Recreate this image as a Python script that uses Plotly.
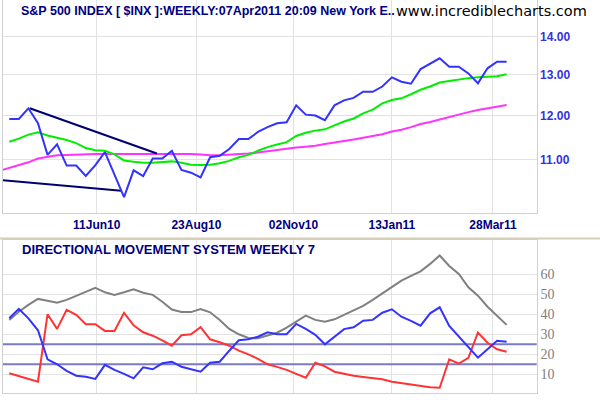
"""S&P 500 weekly with moving averages, trend lines and a DMS (ADX / +DI / -DI) panel."""
import pandas as pd
import plotly.graph_objects as go

# weekly closes ($INX / 100), 08Apr10 .. 07Apr11
weeks = pd.date_range("2010-04-08", periods=53, freq="7D")
close = [
    11.92, 11.92, 12.17, 11.82, 11.11, 11.34, 10.88, 10.88, 10.66, 10.89,
    11.17, 10.70, 10.23, 10.78, 10.66, 11.03, 11.03, 11.20, 10.79, 10.73,
    10.63, 11.06, 11.09, 11.24, 11.46, 11.46, 11.62, 11.73, 11.82, 11.84,
    12.24, 12.02, 12.00, 11.89, 12.24, 12.36, 12.42, 12.57, 12.57, 12.70,
    12.93, 12.82, 12.77, 13.14, 13.27, 13.42, 13.20, 13.20, 13.03, 12.78,
    13.16, 13.33, 13.33,
]
ma_short = [
    11.40, 11.47, 11.56, 11.61, 11.54, 11.49, 11.44, 11.37, 11.26, 11.21,
    11.20, 11.12, 10.99, 10.96, 10.94, 10.94, 10.96, 10.97, 10.94, 10.90,
    10.89, 10.90, 10.93, 10.98, 11.06, 11.11, 11.20, 11.28, 11.34, 11.39,
    11.53, 11.60, 11.65, 11.68, 11.77, 11.86, 11.93, 12.05, 12.14, 12.29,
    12.37, 12.41, 12.51, 12.62, 12.70, 12.80, 12.84, 12.88, 12.91, 12.93,
    12.95, 12.96, 13.01,
]
# long MA starts one week earlier (clipped at the left edge)
ma_long_weeks = pd.date_range("2010-04-01", periods=54, freq="7D")
ma_long = [
    10.77, 10.83, 10.89, 10.95, 11.03, 11.07, 11.10, 11.11, 11.12, 11.12,
    11.13, 11.13, 11.13, 11.14, 11.14, 11.14, 11.14, 11.14, 11.14, 11.14,
    11.13, 11.12, 11.10, 11.10, 11.11, 11.12, 11.14, 11.16, 11.19, 11.22,
    11.24, 11.27, 11.29, 11.31, 11.35, 11.38, 11.41, 11.45, 11.49, 11.53,
    11.57, 11.63, 11.67, 11.73, 11.80, 11.85, 11.91, 11.96, 12.03, 12.08,
    12.13, 12.17, 12.21, 12.25,
]
trend_upper_x = ["2010-04-23", "2010-07-25"]
trend_upper_y = [12.17, 11.14]
trend_lower_x = ["2010-04-01", "2010-06-29"]
trend_lower_y = [10.58, 10.36]

# directional movement system, 7 weeks
adx = [
    37.2, 41.3, 44.7, 47.7, 46.8, 45.8, 47.2, 49.3, 51.3, 53.2,
    51.0, 49.7, 51.0, 52.5, 50.8, 49.7, 46.3, 42.4, 41.2, 41.1,
    42.6, 41.0, 37.2, 32.7, 30.0, 28.2, 28.0, 29.5, 30.8, 33.3,
    36.5, 39.3, 37.2, 36.3, 37.5, 39.8, 41.7, 44.2, 47.2, 50.5,
    53.8, 56.8, 59.2, 61.5, 65.2, 69.4, 64.2, 60.2, 53.5, 49.3,
    43.8, 39.2, 34.7,
]
di_plus = [
    38.0, 42.7, 38.0, 32.0, 17.5, 15.0, 11.7, 9.3, 8.8, 7.7,
    14.7, 12.2, 10.2, 8.0, 13.5, 12.5, 15.5, 16.3, 13.8, 12.7,
    11.3, 15.8, 16.3, 21.8, 27.0, 27.5, 28.8, 31.0, 30.0, 30.0,
    35.2, 32.7, 29.7, 25.0, 28.8, 32.6, 33.5, 36.8, 37.2, 40.8,
    42.5, 38.8, 36.7, 34.3, 40.5, 43.5, 34.2, 28.8, 23.8, 18.3,
    22.5, 26.8, 26.3,
]
di_minus = [
    10.5, 9.0, 7.8, 6.3, 40.0, 32.7, 42.2, 39.7, 35.0, 35.0,
    31.7, 31.7, 40.7, 34.5, 31.0, 29.3, 27.0, 24.3, 29.5, 30.0,
    33.6, 27.5, 26.0, 24.3, 21.8, 20.0, 17.7, 15.0, 13.7, 12.2,
    10.2, 8.3, 15.8, 14.0, 11.3, 10.3, 9.3, 8.7, 8.1, 7.5,
    6.3, 5.6, 4.7, 4.0, 3.5, 3.3, 17.5, 15.3, 18.2, 30.9,
    25.8, 22.5, 21.3,
]
signal_levels = [25, 15]

tick_dates = ["2010-06-11", "2010-08-23", "2010-11-02", "2011-01-13", "2011-03-28"]
tick_text = ["11Jun10", "23Aug10", "02Nov10", "13Jan11", "28Mar11"]
price_ticks = [11, 12, 13, 14]
dms_ticks = [10, 20, 30, 40, 50, 60]

NAVY = "#000080"
GRID = "#E2E2E2"
BORDER = "#D0D0D0"
FONT = "Liberation Sans"

fig = go.Figure()


def line(x, y, color, xa="x", ya="y", width=2):
    fig.add_trace(go.Scatter(
        x=x, y=y, mode="lines", xaxis=xa, yaxis=ya,
        line=dict(color=color, width=width), showlegend=False, hoverinfo="skip",
    ))


line(ma_long_weeks, ma_long, "#FF33FF")
line(weeks, ma_short, "#00EE00")
line(trend_upper_x, trend_upper_y, "#000070")
line(trend_lower_x, trend_lower_y, "#000070")
line(weeks, close, "#3333FF")

for lvl in signal_levels:
    line([weeks[0] - pd.Timedelta(days=30), weeks[-1] + pd.Timedelta(days=60)],
         [lvl, lvl], "#7B7BC4", "x2", "y2")
line(weeks, adx, "#808080", "x2", "y2")
line(weeks, di_minus, "#FF3333", "x2", "y2")
line(weeks, di_plus, "#3333FF", "x2", "y2")

x_range = ["2010-04-03 10:00", "2011-04-29"]
xcommon = dict(
    range=x_range, type="date", tickmode="array", tickvals=tick_dates,
    showgrid=True, gridcolor=GRID, gridwidth=1, zeroline=False,
    showline=True, linecolor=BORDER, mirror=True, ticks="",
    domain=[0.005, 0.8945],
)
fig.update_layout(
    width=600, height=400,
    margin=dict(l=0, r=0, t=0, b=0),
    paper_bgcolor="white", plot_bgcolor="white",
    font=dict(family=FONT),
    xaxis=dict(
        **xcommon, ticktext=tick_text, anchor="y",
        tickfont=dict(family=FONT, size=12, color=NAVY, weight="bold"),
    ),
    xaxis2=dict(**xcommon, showticklabels=False, anchor="y2"),
    yaxis=dict(
        type="log", range=[0.9961, 1.1773], domain=[0.46675, 1.0],
        side="right", anchor="x", tickmode="array", tickvals=price_ticks,
        ticktext=[f"{v:.2f}" for v in price_ticks],
        tickfont=dict(family=FONT, size=12, color="#3333DD", weight="bold"),
        showgrid=True, gridcolor=GRID, zeroline=False,
        showline=True, linecolor=BORDER, mirror=True, ticks="",
    ),
    yaxis2=dict(
        range=[0.5, 77.15], domain=[0.01675, 0.4],
        side="right", anchor="x2", tickmode="array", tickvals=dms_ticks,
        tickfont=dict(family="Liberation Serif", size=14, color="#808080"),
        showgrid=True, gridcolor=GRID, zeroline=False,
        showline=True, linecolor=BORDER, mirror=True, ticks="",
    ),
)

# panel separator
fig.add_shape(type="line", xref="paper", yref="paper", x0=0, x1=1,
              y0=1 - 238.5 / 400, y1=1 - 238.5 / 400,
              line=dict(color="#D6CEB6", width=2))

fig.add_annotation(
    xref="paper", yref="paper", x=19 / 600, y=1 - 2 / 400,
    xanchor="left", yanchor="top", showarrow=False,
    text="S&P 500 INDEX [ $INX ]:WEEKLY:07Apr2011 20:09 New York E..",
    font=dict(family=FONT, size=12.5, color=NAVY, weight="bold"),
)
fig.add_annotation(
    xref="paper", yref="paper", x=589 / 600, y=1 - 1 / 400,
    xanchor="right", yanchor="top", showarrow=False,
    text="www.incrediblecharts.com",
    font=dict(family="DejaVu Sans", size=14.5, color="black"),
)
fig.add_annotation(
    xref="paper", yref="paper", x=20 / 600, y=1 - 240 / 400,
    xanchor="left", yanchor="top", showarrow=False,
    text="DIRECTIONAL MOVEMENT SYSTEM WEEKLY 7",
    font=dict(family=FONT, size=13, color=NAVY, weight="bold"),
)

# the page body has an 8px default margin; drop it so the 600x400 figure fills the window
fig.write_html(
    "out.html",
    config={"displayModeBar": False},
    post_script="document.body.style.margin='0';",
)
